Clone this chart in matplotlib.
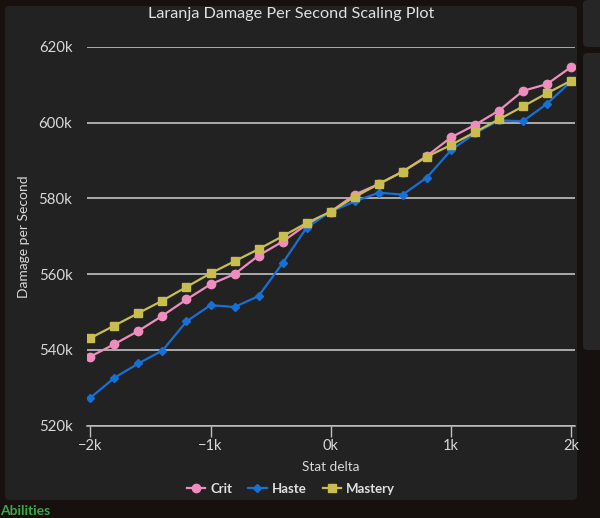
import matplotlib
matplotlib.use("Agg")
import matplotlib.pyplot as plt
from matplotlib.patches import FancyBboxPatch
from matplotlib.lines import Line2D

# stat delta values (x axis)
stat_delta = [-2000, -1800, -1600, -1400, -1200, -1000, -800, -600, -400, -200, 0,
              200, 400, 600, 800, 1000, 1200, 1400, 1600, 1800, 2000]

# damage per second, in thousands
crit = [538.2, 541.5, 545.0, 549.0, 553.3, 557.3, 560.0, 564.9, 568.6, 573.1, 576.5,
        581.0, 583.8, 587.1, 591.2, 596.1, 599.4, 603.2, 608.4, 610.2, 614.7]
haste = [527.3, 532.6, 536.4, 539.8, 547.5, 551.8, 551.3, 554.2, 562.9, 572.3, 576.5,
         579.2, 581.5, 581.0, 585.5, 592.7, 597.2, 600.6, 600.4, 605.0, 610.9]
mastery = [543.1, 546.4, 549.7, 553.0, 556.6, 560.2, 563.4, 566.6, 570.0, 573.5, 576.5,
           580.4, 583.8, 587.1, 591.0, 594.1, 597.5, 600.9, 604.3, 607.8, 611.1]

y_ticks = [520, 540, 560, 580, 600, 620]
x_ticks = [-2000, -1000, 0, 1000, 2000]
x_labels = ["\u22122k", "\u22121k", "0k", "1k", "2k"]

W, H = 600, 518
plt.rcParams['font.family'] = ['Lato', 'DejaVu Sans']

fig = plt.figure(figsize=(W / 100, H / 100), dpi=100)
fig.patch.set_facecolor("#16100e")

# main chart panel and the side panels
panels = [((5, 6), (572, 494), "#222222"),
          ((583, 0), (30, 47), "#262626"),
          ((583, 53), (30, 297), "#262626")]
for (px, py), (pw, ph), col in panels:
    fig.patches.append(FancyBboxPatch((px / W, 1 - (py + ph) / H), pw / W, ph / H,
                                      boxstyle="round,pad=0,rounding_size=0.008",
                                      transform=fig.transFigure, facecolor=col,
                                      edgecolor="none", zorder=-5))

ax = fig.add_axes([87 / W, 1 - 425.5 / H, 488 / W, 378.5 / H])
ax.set_zorder(2)
ax.set_facecolor("none")

ax.plot(stat_delta, crit, color="#f08dbf", lw=1.6, marker="o", ms=6, label="Crit", zorder=3)
ax.plot(stat_delta, haste, color="#1670d6", lw=1.6, marker="D", ms=4.2, label="Haste", zorder=3)
ax.plot(stat_delta, mastery, color="#c9bd4f", lw=1.6, marker="s", ms=6.3, label="Mastery", zorder=4)

ax.set_xlim(-2028, 2033)
ax.set_ylim(520, 620)
ax.set_yticks(y_ticks)
ax.set_yticklabels([f"{v}k" for v in y_ticks])
ax.set_xticks(x_ticks)
ax.set_xticklabels(x_labels)
ax.grid(axis="y", color="#d0d0d0", lw=1.1)
ax.set_axisbelow(True)

for s in ["top", "right", "left"]:
    ax.spines[s].set_visible(False)
ax.spines["bottom"].set_color("#c0c0c0")
ax.spines["bottom"].set_linewidth(1.1)

ax.tick_params(axis="y", length=0, pad=10.5, labelsize=10.8, labelcolor="#d8d8d8")
ax.tick_params(axis="x", length=8, width=1, color="#c0c0c0", pad=1.5,
               labelsize=10.5, labelcolor="#d8d8d8")

ax.set_xlabel("Stat delta", color="#d8d8d8", fontsize=9.8, labelpad=6)
ax.set_ylabel("Damage per Second", color="#d8d8d8", fontsize=10, labelpad=6)

fig.text(291 / W, 1 - 14 / H, "Laranja Damage Per Second Scaling Plot", ha="center",
         va="center", color="#e0e0e0", fontsize=11.7)

handles = [Line2D([], [], color="#f08dbf", lw=1.6, marker="o", ms=6),
           Line2D([], [], color="#1670d6", lw=1.6, marker="D", ms=4.2),
           Line2D([], [], color="#c9bd4f", lw=1.6, marker="s", ms=6.3)]
fig.legend(handles, ["Crit", "Haste", "Mastery"], loc="center",
           bbox_to_anchor=(291 / W, 1 - 489 / H), ncol=3, frameon=False,
           handlelength=1.4, handletextpad=0.4, columnspacing=1.2,
           prop={"weight": "bold", "size": 9.5}, labelcolor="#e0e0e0")

fig.text(0, 1 - 511 / H, "Abilities", ha="left", va="center", color="#3aa845",
         fontsize=10, fontweight="bold")

fig.savefig("out.png", dpi=100, facecolor=fig.get_facecolor())
